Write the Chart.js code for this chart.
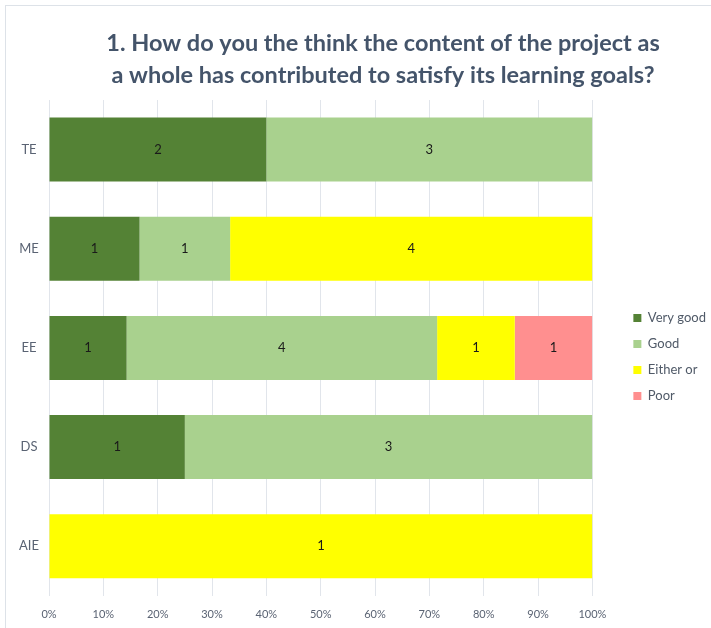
<!DOCTYPE html>
<html>
<head>
<meta charset="utf-8">
<script src="https://cdn.jsdelivr.net/npm/chart.js@4.4.1/dist/chart.umd.min.js"></script>
<style>
    html, body { margin: 0; padding: 0; background: #fff; }
    #frame { position: absolute; left: 5px; top: 5px; width: 800px; height: 800px; border: 1px solid #dde2e8; }
    #wrap { position: absolute; left: 0; top: 0; width: 711px; height: 628px; }
</style>
</head>
<body>
<div id="frame"></div>
<div id="wrap"><canvas id="surveyChart"></canvas></div>
<script>
const titleLines = ['1. How do you the think the content of the project as', 'a whole has contributed to satisfy its learning goals?'];
const categories = ['TE', 'ME', 'EE', 'DS', 'AIE'];
const seriesNames = ['Very good', 'Good', 'Either or', 'Poor'];
const veryGood = [2, 1, 1, 1, 0];
const good = [3, 1, 4, 3, 0];
const eitherOr = [0, 4, 1, 0, 1];
const poor = [0, 0, 1, 0, 0];
const colors = ['#548235', '#a9d18e', '#ffff00', '#ff8f8f'];
const tickValues = [0, 10, 20, 30, 40, 50, 60, 70, 80, 90, 100];

document.addEventListener("DOMContentLoaded", function () {
    const counts = [veryGood, good, eitherOr, poor];
    const totals = categories.map((c, i) => counts.reduce((s, arr) => s + arr[i], 0));

    // bar labels show the raw counts in the middle of each segment
    const countLabels = {
        id: 'countLabels',
        afterDatasetsDraw(chart) {
            const ctx = chart.ctx;
            ctx.save();
            ctx.font = '13px Lato';
            ctx.fillStyle = '#1a1a1a';
            ctx.textAlign = 'center';
            ctx.textBaseline = 'middle';
            chart.data.datasets.forEach((ds, di) => {
                chart.getDatasetMeta(di).data.forEach((bar, i) => {
                    const n = counts[di][i];
                    if (!n) return;
                    const p = bar.getCenterPoint();
                    ctx.fillText(n, p.x, p.y);
                });
            });
            ctx.restore();
        }
    };

    const chartTitle = {
        id: 'chartTitle',
        afterDraw(chart) {
            const ctx = chart.ctx;
            ctx.save();
            ctx.font = 'bold 23.5px Lato';
            ctx.fillStyle = '#44546a';
            ctx.textAlign = 'center';
            ctx.textBaseline = 'middle';
            ctx.fillText(titleLines[0], 383, 43);
            ctx.fillText(titleLines[1], 383, 75);
            ctx.restore();
        }
    };

    const ctx = document.getElementById('surveyChart').getContext('2d');
    new Chart(ctx, {
        type: 'bar',
        data: {
            labels: categories,
            datasets: seriesNames.map((name, k) => ({
                label: name,
                data: counts[k].map((v, i) => v / totals[i] * 100),
                backgroundColor: colors[k],
                borderWidth: 0,
                barPercentage: 0.645,
                categoryPercentage: 1
            }))
        },
        options: {
            indexAxis: 'y',
            responsive: true,
            maintainAspectRatio: false,
            animation: false,
            layout: { padding: { top: 100, bottom: -5, left: 0, right: -5 } },
            scales: {
                x: {
                    stacked: true,
                    min: 0,
                    max: 100,
                    afterBuildTicks: axis => { axis.ticks = tickValues.map(v => ({ value: v })); },
                    grid: { color: '#e1e5eb', drawTicks: false },
                    border: { display: false },
                    ticks: {
                        padding: 12,
                        color: '#5a6373',
                        font: { family: 'Lato', size: 11 },
                        callback: v => v + '%'
                    }
                },
                y: {
                    stacked: true,
                    grid: { display: false },
                    border: { display: false },
                    afterFit: axis => { axis.width = 49; },
                    ticks: {
                        padding: 2,
                        crossAlign: 'center',
                        color: '#5a6373',
                        font: { family: 'Lato', size: 13 }
                    }
                },
                gap: {
                    type: 'category',
                    position: 'right',
                    labels: categories,
                    grid: { display: false },
                    border: { display: false },
                    ticks: { display: false },
                    afterFit: axis => { axis.width = 28; }
                }
            },
            plugins: {
                title: { display: false },
                tooltip: { enabled: false },
                legend: {
                    position: 'right',
                    align: 'center',
                    fullSize: false,
                    // empty title only nudges the items down a little
                    title: { display: true, text: ' ', padding: 0, font: { size: 15 } },
                    labels: {
                        boxWidth: 8,
                        boxHeight: 8,
                        padding: 13,
                        color: '#505a68',
                        font: { family: 'Lato', size: 13 }
                    }
                }
            }
        },
        plugins: [countLabels, chartTitle]
    });
});
</script>
</body>
</html>
